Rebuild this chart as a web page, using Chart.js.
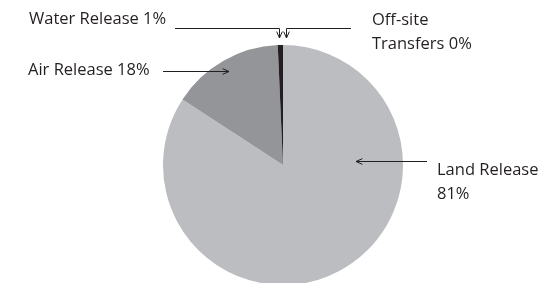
<!DOCTYPE html>
<html>
<head>
<meta charset="utf-8">
<script src="https://cdn.jsdelivr.net/npm/chart.js@4"></script>
<style>
  html, body { margin: 0; padding: 0; background: #fff; overflow: hidden; }
  #wrap { width: 543px; height: 283px; overflow: hidden; }
</style>
</head>
<body>
<div id="wrap"><canvas id="pie" width="543" height="290"></canvas></div>
<script>
// ===== Data =====
const categories = ['Land Release', 'Air Release', 'Water Release', 'Off-site Transfers'];
// slice sizes (percent)
const shares = [84.2, 15.1, 0.7, 0];
// labels as printed on the figure
const printedLabels = [['Land Release', '81%'], ['Air Release 18%'], ['Water Release 1%'], ['Off-site', 'Transfers 0%']];
const sliceColors = ['#bcbdc0', '#939598', '#231f20', '#6d6e71'];

// ===== Callouts (text anchor + arrow path, canvas px) =====
const callouts = [
  { lines: printedLabels[0], x: 437, y: 175, lh: 24, path: [[427, 161.5], [356, 161.5]] },
  { lines: printedLabels[1], x: 28, y: 75, lh: 24, path: [[163, 71.5], [229, 71.5]] },
  { lines: printedLabels[2], x: 29, y: 24, lh: 24, path: [[175, 28.5], [279.5, 28.5], [279.5, 38]] },
  { lines: printedLabels[3], x: 372, y: 25, lh: 24, path: [[351, 28.5], [286.5, 28.5], [286.5, 38]] }
];

const INK = '#231f20';

function drawArrow(ctx, pts) {
  ctx.beginPath();
  ctx.moveTo(pts[0][0], pts[0][1]);
  for (let i = 1; i < pts.length; i++) ctx.lineTo(pts[i][0], pts[i][1]);
  ctx.stroke();
  // open arrowhead at the last point
  const [x1, y1] = pts[pts.length - 2];
  const [x2, y2] = pts[pts.length - 1];
  const a = Math.atan2(y2 - y1, x2 - x1);
  const len = 7, spread = 0.42;
  ctx.beginPath();
  ctx.moveTo(x2 - len * Math.cos(a - spread), y2 - len * Math.sin(a - spread));
  ctx.lineTo(x2, y2);
  ctx.lineTo(x2 - len * Math.cos(a + spread), y2 - len * Math.sin(a + spread));
  ctx.stroke();
}

const calloutPlugin = {
  id: 'callouts',
  afterDraw(chart) {
    const ctx = chart.ctx;
    ctx.save();
    ctx.font = "16.5px 'Open Sans', sans-serif";
    ctx.fillStyle = INK;
    ctx.strokeStyle = INK;
    ctx.lineWidth = 1;
    ctx.textBaseline = 'alphabetic';
    callouts.forEach(c => {
      c.lines.forEach((t, i) => ctx.fillText(t, c.x, c.y + i * c.lh));
      drawArrow(ctx, c.path);
    });
    ctx.restore();
  }
};

new Chart(document.getElementById('pie'), {
  type: 'pie',
  data: {
    labels: categories,
    datasets: [{ data: shares, backgroundColor: sliceColors, borderWidth: 0 }]
  },
  options: {
    responsive: false,
    animation: false,
    layout: { padding: { top: 45, bottom: 5, left: 163, right: 140 } },
    plugins: { legend: { display: false }, tooltip: { enabled: false } }
  },
  plugins: [calloutPlugin]
});
</script>
</body>
</html>
